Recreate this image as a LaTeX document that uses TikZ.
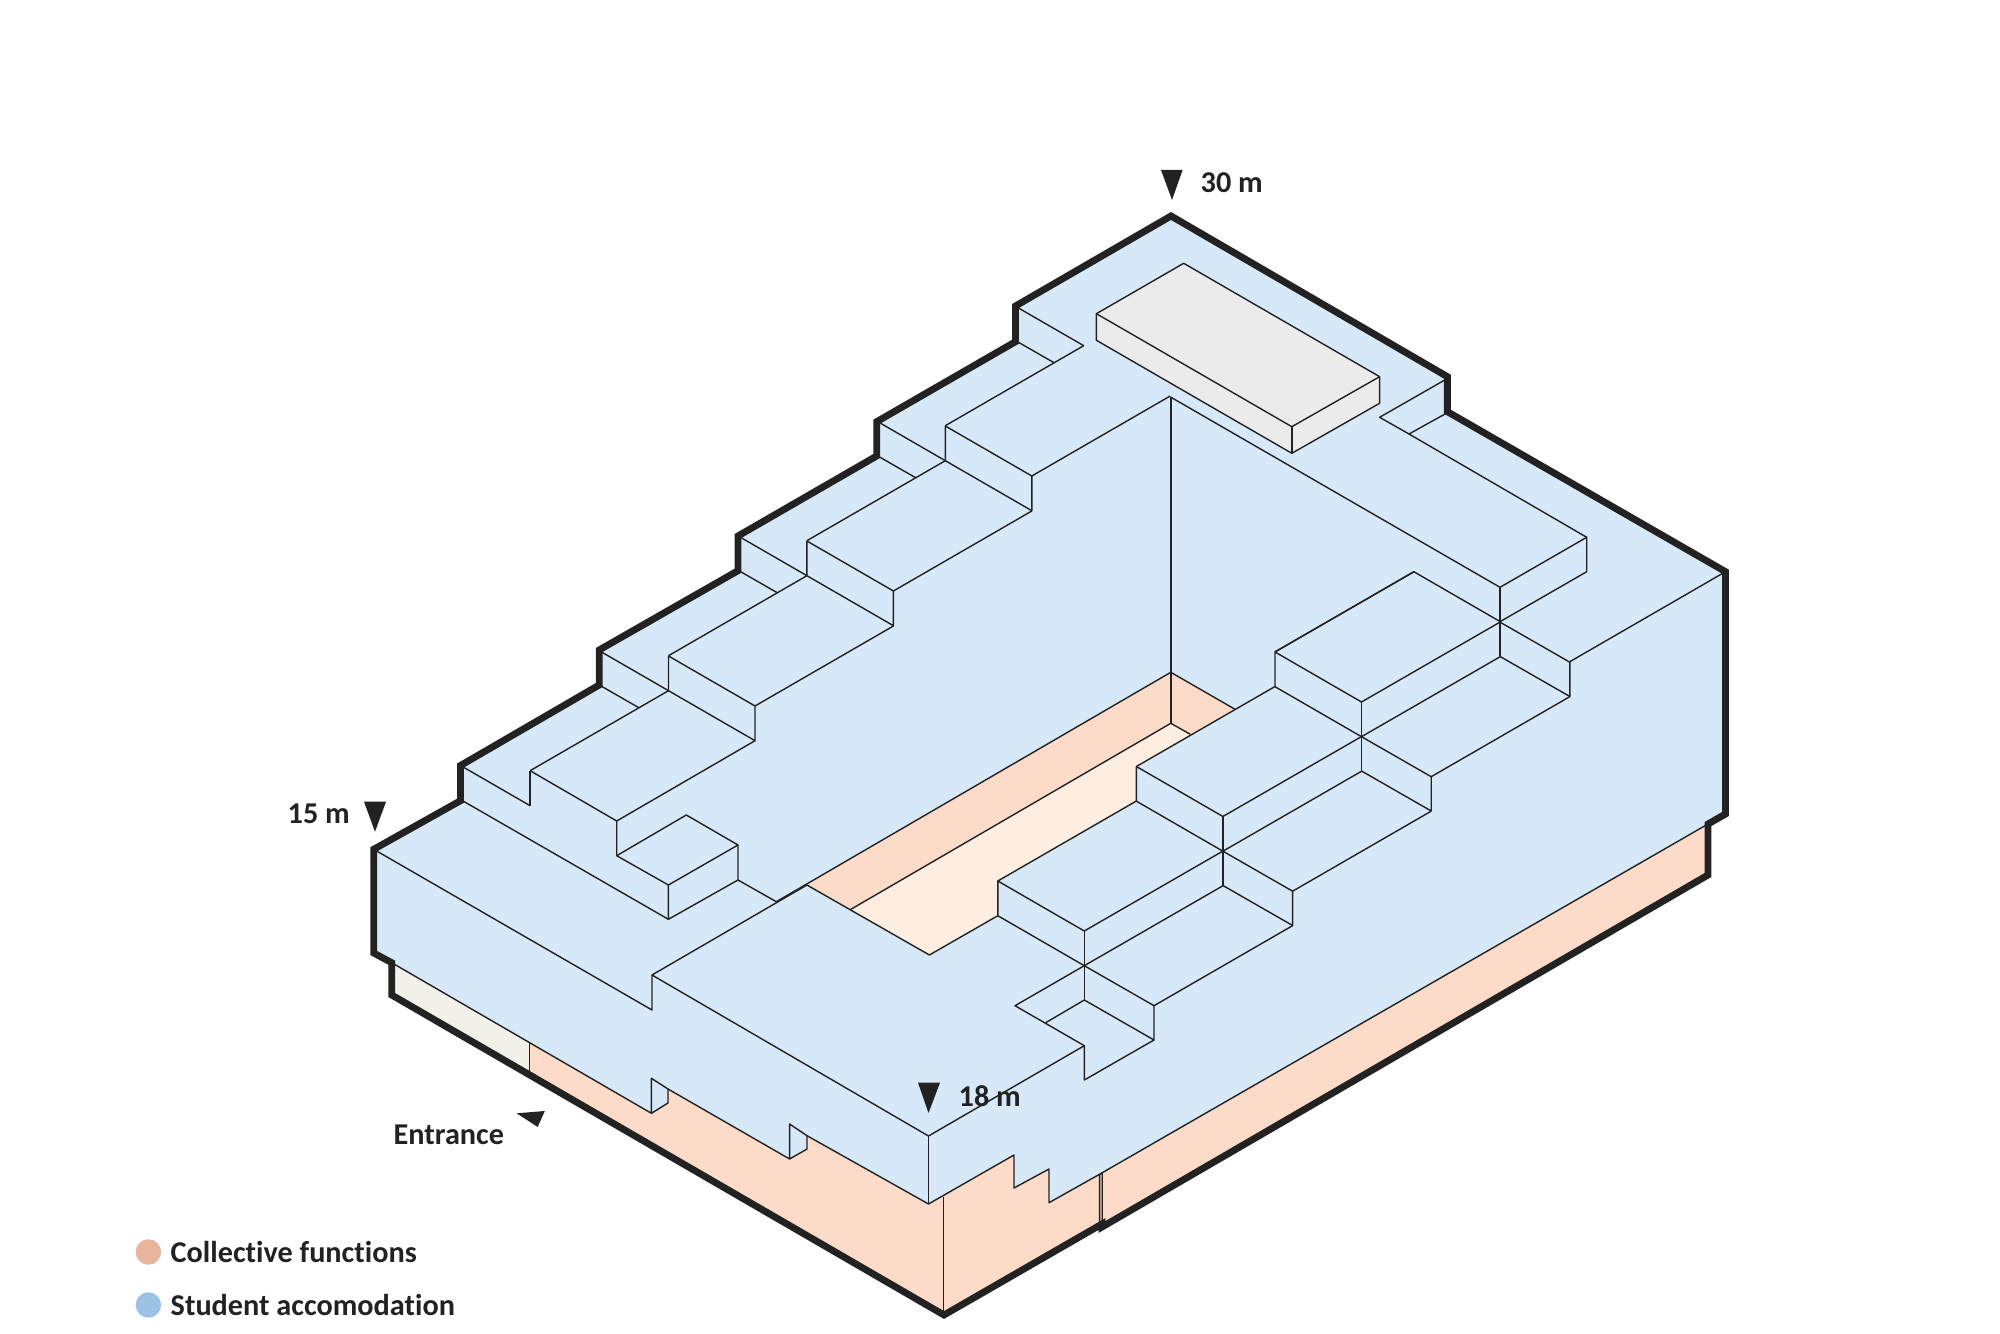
\documentclass[tikz,border=0pt]{standalone}
\usepackage{fontspec}
\setmainfont{Carlito}[Ligatures=NoCommon]
\definecolor{roofblue}{HTML}{D7E8F8}
\definecolor{wallpeach}{HTML}{FCDCC8}
\definecolor{floorpeach}{HTML}{FEEEE2}
\definecolor{entrycream}{HTML}{F3EFE9}
\definecolor{boxgrey}{HTML}{EBEBEB}
\definecolor{inkdark}{HTML}{222222}
\definecolor{jointbrown}{HTML}{B59A8A}
\definecolor{dotpeach}{HTML}{E8B49C}
\definecolor{dotblue}{HTML}{9BC2E3}
\begin{document}
\begin{tikzpicture}[x=0.01cm, y=-0.01cm,
    thinline/.style={line width=0.4pt, draw=inkdark, line join=round},
    hairline/.style={line width=0.25pt, draw=inkdark},
    outline/.style={line width=1.95pt, draw=inkdark},
    tipmark/.style={fill=inkdark},
    levelnote/.style={inner sep=0pt, anchor=west, text=inkdark, font=\fontsize{8.6}{10}\selectfont\bfseries},
    legenddot/.style={circle, inner sep=0pt, minimum size=0.255cm}]

    \useasboundingbox (0,0) rectangle (2000,1334);

    % Ground floor
    \fill[wallpeach] (373.7,849.3) -- (1725.5,571.7) -- (1725.5,814) -- (1708,824) -- (1708,875) -- (1102,1227) -- (944,1315) -- (391.7,995) -- cycle;
    \fill[entrycream] (391.7,962.7) -- (529.3,1043.3) -- (529.3,1074.8) -- (391.7,995) -- cycle;
    \draw[hairline] (529.3,1043.3) -- (529.3,1074.8);
    \draw[hairline] (943,1197) -- (943,1315);
    \filldraw[hairline, fill=jointbrown] (1099.3,1175) -- (1102.3,1173) -- (1102.3,1226) -- (1099.3,1224) -- cycle;

    % Student floors
    \fill[roofblue] (373.7,849.3) -- (460.5,800.7) -- (460.5,765.5) -- (599.2,685) -- (599.2,650) -- (738,570.7) -- (738,536) -- (876.7,456) -- (876.7,421.7) -- (1015.5,341.7) -- (1015.5,306) -- (1171,215) -- (1447.4,376.7) -- (1447.4,411.7) -- (1725.5,571.7) -- (1725.5,814) -- (1708,824) -- (1100,1174) -- (1049,1202.7) -- (1049,1169) -- (1014,1188) -- (1014,1155) -- (928.5,1204) -- (807,1135.7) -- (807,1149) -- (789.6,1159) -- (668,1089) -- (668,1103) -- (651.4,1113.3) -- (391.7,962.7) -- (373.7,953) -- cycle;

    % Bottom edge of the student floors
    \draw[thinline] (391.7,962.7) -- (651.4,1113.3) -- (651.4,1078.3) -- (668,1089) -- (668,1103) -- (651.4,1113.3);
    \draw[thinline] (668,1089) -- (789.6,1159) -- (789.6,1124) -- (807,1135.7) -- (807,1149) -- (789.6,1159);
    \draw[thinline] (807,1135.7) -- (928.5,1204) -- (1014,1155) -- (1014,1188) -- (1049,1169) -- (1049,1202.7) -- (1100,1174) -- (1708,824);
    \draw[thinline] (928.5,1136) -- (928.5,1204);

    % Courtyard
    \fill[wallpeach] (776.3,901.7) -- (1170.8,672.3) -- (1235,709.3) -- (1136.4,766.7) -- (1136.4,801) -- (997.8,881) -- (997.8,915.7) -- (929.4,955) -- (806.9,885) -- cycle;
    \fill[floorpeach] (850.9,909.3) -- (1170.8,723.3) -- (1190.3,734.3) -- (1136.4,766.7) -- (1136.4,801) -- (997.8,881) -- (997.8,915.7) -- (929.4,955) -- cycle;
    \draw[thinline] (776.3,901.7) -- (1170.8,672.3) -- (1235,709.3);
    \draw[thinline] (850.9,909.3) -- (1170.8,723.3) -- (1190.3,734.3);
    \draw[thinline] (806.9,885) -- (929.4,955) -- (997.8,915.7);
    \draw[thinline] (1170.8,397.3) -- (1170.8,723.3);

    % Front wing
    \draw[thinline] (373.7,849.3) -- (652,1010) -- (652,975) -- (806.9,885);
    \draw[thinline] (652,975) -- (928.5,1136);
    \draw[thinline] (928.5,1136) -- (1084.3,1045.7);

    % Left stairs
    \foreach \k in {-1,0,1,2,3} {
        \begin{scope}[shift={(\k*138.4,\k*-115)}]
            \draw[thinline] (601,651.7) -- (668.5,690.7);
        \end{scope}
    }
    \foreach \k in {0,1,2,3} {
        \begin{scope}[shift={(\k*138.4,\k*-115)}]
            \draw[thinline] (601,686) -- (638.8,707.7);
            \draw[thinline] (668.5,690.7) -- (530.1,770.7);
        \end{scope}
    }
    \foreach \k in {0,1,2} {
        \begin{scope}[shift={(\k*138.4,\k*-115)}]
            \draw[thinline] (668.5,656) -- (668.5,690.7) -- (755,740.7) -- (755,706) -- (668.5,656);
            \draw[thinline] (893.4,626) -- (755,706);
        \end{scope}
    }
    \draw[thinline] (530.1,770.7) -- (530.1,805.7);
    \draw[thinline] (530.1,770.7) -- (616.7,821) -- (616.7,855.7);
    \draw[thinline] (616.7,821) -- (755,740.7);

    % Small box on the terrace
    \draw[thinline] (616.7,855.7) -- (686.3,815) -- (738,845) -- (668.4,885) -- cycle;
    \draw[thinline] (668.4,885) -- (668.4,919.3) -- (738,880) -- (738,845);
    \draw[thinline] (738,880) -- (776.3,901.7);
    \draw[thinline] (462.5,800.7) -- (668.4,919.3);

    % Right stairs
    \foreach \k in {0,1,2} {
        \begin{scope}[shift={(\k*138.6,\k*-114.5)}]
            \draw[thinline] (997.8,915.7) -- (997.8,881) -- (1084.3,931) -- (1223,851);
            \draw[thinline] (997.8,881) -- (1136.4,801);
        \end{scope}
    }
    \foreach \k in {0,1,2,3} {
        \begin{scope}[shift={(\k*138.6,\k*-114.5)}]
            \draw[thinline] (1084.3,931) -- (1084.3,1000);
            \draw[thinline] (1084.3,965.7) -- (1154,1005.7) -- (1154,1040) -- (1084.3,1000);
        \end{scope}
    }
    \foreach \k in {0,1,2} {
        \begin{scope}[shift={(\k*138.6,\k*-114.5)}]
            \draw[thinline] (997.8,915.7) -- (1084.3,965.7) -- (1223,885.7);
            \draw[thinline] (1154,1005.7) -- (1292.5,925.7);
        \end{scope}
    }
    \draw[thinline] (1275.3,651.7) -- (1413.8,571.7) -- (1500.3,621.7);
    \draw[thinline] (1569.8,661.7) -- (1725.5,571.7);

    % Foot of the right stairs
    \draw[thinline] (1084.3,965.7) -- (1015,1005.7) -- (1084.3,1045.7) -- (1084.3,1080) -- (1154,1040);
    \draw[thinline] (1045.7,1022.7) -- (1084.3,1000);

    % Top wing
    \draw[thinline] (1171,397.3) -- (1500,587.3) -- (1586.7,537.3) -- (1586.7,571.7) -- (1500,621.7);
    \draw[thinline] (1586.7,537.3) -- (1409,434) -- (1447.4,412.7);
    \draw[thinline] (1409,434) -- (1379.6,417.3) -- (1446,379.3);

    % Roof box
    \filldraw[thinline, fill=boxgrey] (1096.4,313.7) -- (1183.7,263.3) -- (1379.6,376.7) -- (1379.6,403.3) -- (1291.8,453.3) -- (1096.4,340.3) -- cycle;
    \draw[thinline] (1096.4,313.7) -- (1291.8,426.7) -- (1379.6,376.7);
    \draw[thinline] (1291.8,426.7) -- (1291.8,453.3);

    % Outer contour
    \draw[outline] (373.7,849.3) -- (460.5,800.7) -- (460.5,765.5) -- (599.2,685) -- (599.2,650) -- (738,570.7) -- (738,536) -- (876.7,456) -- (876.7,421.7) -- (1015.5,341.7) -- (1015.5,306) -- (1171,216) -- (1447.4,376.7) -- (1447.4,411.7) -- (1725.5,571.7) -- (1725.5,814) -- (1708,824) -- (1708,875) -- (1102,1227) -- (1102,1224) -- (944,1315) -- (391.7,995) -- (391.7,962.7) -- (373.7,953) -- cycle;

    % Level marks
    \fill[tipmark] (1161,170) -- (1182.6,170) -- (1172,200) -- cycle;
    \node[levelnote] (level30) at (1200,183) {30 m};
    \fill[tipmark] (364,801.7) -- (386,801.7) -- (375,831.7) -- cycle;
    \node[levelnote] (level15) at (287,814) {15 m};
    \fill[tipmark] (918,1082.7) -- (940,1082.7) -- (928.5,1113) -- cycle;
    \node[levelnote] (level18) at (958,1096) {18 m};
    \fill[tipmark] (516.7,1113.3) -- (544.8,1111) -- (537.7,1127) -- cycle;
    \node[levelnote] (entrance) at (393,1135) {Entrance};

    % Legend
    \node[legenddot, fill=dotpeach] (dotcollective) at (148.4,1252) {};
    \node[levelnote] (collective) at (170,1252) {Collective functions};
    \node[legenddot, fill=dotblue] (dotstudent) at (148.4,1305) {};
    \node[levelnote] (student) at (170,1305) {Student accomodation};
\end{tikzpicture}
\end{document}
